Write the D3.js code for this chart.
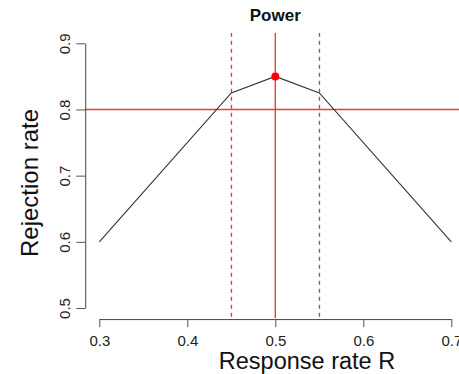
<!DOCTYPE html>
<html>
<head>
<meta charset="utf-8">
<script src="https://cdn.jsdelivr.net/npm/d3@7/dist/d3.min.js"></script>
<style>
  html, body { margin: 0; padding: 0; background: #fff; }
  svg { display: block; font-family: "Liberation Sans", Arial, sans-serif; }
</style>
</head>
<body>
<svg id="chart" width="459" height="374"></svg>
<script>
// Rejection rate as a function of the true response rate
const responseRate = [0.3, 0.45, 0.5, 0.55, 0.7];
const rejectionRate = [0.6, 0.825, 0.85, 0.825, 0.6];
const xTicks = [0.3, 0.4, 0.5, 0.6, 0.7];
const yTicks = [0.5, 0.6, 0.7, 0.8, 0.9];
const targetRate = 0.5;          // solid vertical reference
const marginRates = [0.45, 0.55]; // dashed vertical references
const powerLevel = 0.8;          // horizontal reference

const W = 459, H = 374;
const svg = d3.select("#chart");

const x = d3.scaleLinear().domain([0.3, 0.7]).range([99.3, 451.3]);
const y = d3.scaleLinear().domain([0.5, 0.9]).range([308, 43.3]);
const crisp = v => Math.floor(v) + 0.5;

// plot region extends 4% beyond the data range on each side
const pad = 0.04;
const xLo = x.invert(x.range()[0] - pad * (x.range()[1] - x.range()[0]));
const xHi = x.invert(x.range()[1] + pad * (x.range()[1] - x.range()[0]));
const yLo = y.invert(y.range()[0] + pad * (y.range()[0] - y.range()[1]));
const yHi = y.invert(y.range()[1] - pad * (y.range()[0] - y.range()[1]));

svg.append("defs").append("clipPath").attr("id", "plotArea")
  .append("rect")
  .attr("x", x(xLo)).attr("y", y(yHi))
  .attr("width", x(xHi) - x(xLo)).attr("height", y(yLo) - y(yHi));

const plot = svg.append("g").attr("clip-path", "url(#plotArea)");

// reference lines
plot.append("line")
  .attr("x1", x(xLo)).attr("x2", x(xHi))
  .attr("y1", crisp(y(powerLevel))).attr("y2", crisp(y(powerLevel)))
  .attr("stroke", "#f03c3c").attr("stroke-width", 1.3);

plot.append("line")
  .attr("x1", x(targetRate)).attr("x2", x(targetRate))
  .attr("y1", y(yHi)).attr("y2", y(yLo))
  .attr("stroke", "#ff2a2a").attr("stroke-width", 1.3);

plot.selectAll("line.margin").data(marginRates).enter().append("line")
  .attr("class", "margin")
  .attr("x1", d => crisp(x(d))).attr("x2", d => crisp(x(d)))
  .attr("y1", y(yHi)).attr("y2", y(yLo))
  .attr("stroke", "#e63030").attr("stroke-width", 1.3)
  .attr("stroke-dasharray", "4,4");

// power curve
const pts = responseRate.map((r, i) => [r, rejectionRate[i]]);
plot.append("path")
  .datum(pts)
  .attr("fill", "none")
  .attr("stroke", "#333")
  .attr("stroke-width", 1.1)
  .attr("d", d3.line().x(d => x(d[0])).y(d => y(d[1])));

// highlighted point at the target rate
const iTarget = responseRate.indexOf(targetRate);
plot.append("circle")
  .attr("cx", x(responseRate[iTarget]))
  .attr("cy", y(rejectionRate[iTarget]))
  .attr("r", 4)
  .attr("fill", "#ff0000");

// axes
const xAxis = svg.append("g")
  .attr("transform", `translate(0,${y(yLo) + 0.5})`)
  .call(d3.axisBottom(x).tickValues(xTicks).tickFormat(d3.format(".1f"))
    .tickSize(8).tickSizeOuter(0).tickPadding(8));
xAxis.select(".domain").attr("stroke", "#444");
xAxis.selectAll(".tick line").attr("stroke", "#555");
xAxis.selectAll(".tick text").attr("font-size", 15).attr("fill", "#222")
  .attr("font-family", "Liberation Sans, Arial, sans-serif");

const yAxis = svg.append("g")
  .attr("transform", `translate(${x(xLo)},0)`)
  .call(d3.axisLeft(y).tickValues(yTicks).tickFormat(d3.format(".1f"))
    .tickSize(9).tickSizeOuter(0).tickPadding(0));
yAxis.select(".domain").attr("stroke", "#444");
yAxis.selectAll(".tick line").attr("stroke", "#555");
yAxis.selectAll(".tick text")
  .attr("font-size", 15).attr("fill", "#222")
  .attr("font-family", "Liberation Sans, Arial, sans-serif")
  .attr("x", null).attr("dy", null)
  .attr("text-anchor", "middle")
  .attr("transform", "translate(-15,0) rotate(-90)");

// titles
svg.append("text")
  .attr("x", (x(xLo) + x(xHi)) / 2).attr("y", 21)
  .attr("text-anchor", "middle")
  .attr("font-size", 17).attr("font-weight", "bold").attr("fill", "#111")
  .text("Power");

svg.append("text")
  .attr("x", 307).attr("y", 369)
  .attr("text-anchor", "middle")
  .attr("font-size", 23.5).attr("fill", "#111")
  .text("Response rate R");

svg.append("text")
  .attr("transform", `translate(38,${183}) rotate(-90)`)
  .attr("text-anchor", "middle")
  .attr("font-size", 24).attr("fill", "#111")
  .text("Rejection rate");
</script>
</body>
</html>
